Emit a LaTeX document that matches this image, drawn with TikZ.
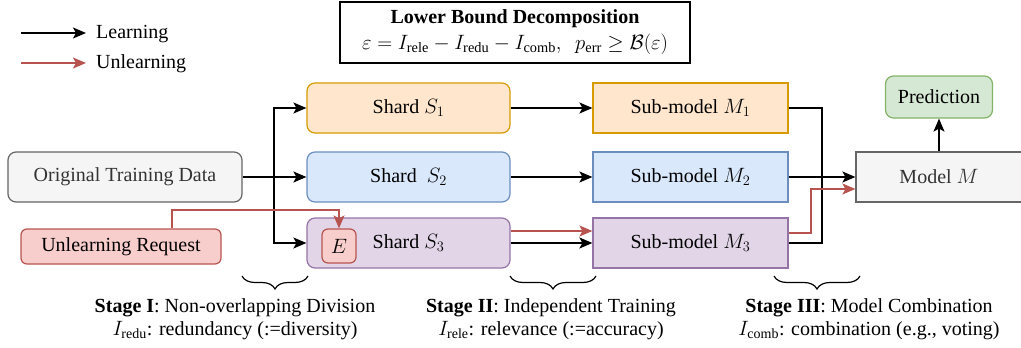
\documentclass[tikz,border=0pt]{standalone}
\usepackage{fontspec}
\setmainfont{Liberation Serif}
\usetikzlibrary{arrows.meta,decorations.pathreplacing}
\definecolor{orangeF}{HTML}{FFE6CC}\definecolor{orangeD}{HTML}{D79B00}
\definecolor{blueF}{HTML}{DAE8FC}\definecolor{blueD}{HTML}{6C8EBF}
\definecolor{purpF}{HTML}{E1D5E7}\definecolor{purpD}{HTML}{9673A6}
\definecolor{grayF}{HTML}{F5F5F5}\definecolor{grayD}{HTML}{666666}
\definecolor{redF}{HTML}{F8CECC}\definecolor{redD}{HTML}{B85450}
\definecolor{greenF}{HTML}{D5E8D4}\definecolor{greenD}{HTML}{82B366}
\definecolor{txtgray}{HTML}{333333}
\tikzset{
  box/.style={draw, line width=1.2pt, minimum height=50pt, inner sep=0pt},
  rbox/.style={box, rounded corners=8pt},
  arr/.style={line width=1.6pt, -{Stealth[length=13pt,width=11pt,inset=3pt]}},
  rarr/.style={line width=1.4pt, draw=redD, -{Stealth[length=13pt,width=11pt,inset=3pt]}},
  plain/.style={line width=1.6pt},
  bracestyle/.style={line width=1.2pt, decorate, decoration={brace, mirror, amplitude=13pt}},
}
\begin{document}
\begin{tikzpicture}[x=1pt,y=-1pt, font=\fontsize{20}{23}\selectfont]
\useasboundingbox (0,0) rectangle (1021,348);
% legend
\coordinate (l1a) at (21,33); \coordinate (l1b) at (86,33);
\coordinate (l2a) at (21,63); \coordinate (l2b) at (86,63);
\draw[arr] (l1a) -- (l1b);
\draw[rarr] (l2a) -- (l2b);
\node[anchor=west, inner sep=0pt] (lt1) at (96,34) {Learning};
\node[anchor=west, inner sep=0pt] (lt2) at (96,64) {Unlearning};
% formula box
\node[draw, line width=1.5pt, minimum width=350pt, minimum height=61pt, align=center, inner sep=2pt] (lb) at (515,32.5)
  {\textbf{Lower Bound Decomposition}\\[3pt] {\fontsize{20.5}{23}\selectfont$\varepsilon = I_{\mathrm{rele}} - I_{\mathrm{redu}} - I_{\mathrm{comb}},\ \ p_{\mathrm{err}} \geq \mathcal{B}(\varepsilon)$}};
% nodes
\node[rbox, fill=grayF, draw=grayD, text=txtgray, minimum width=234pt] (otd) at (125,177) {Original Training Data};
\node[rbox, fill=redF, draw=redD, minimum width=200pt, minimum height=35pt, rounded corners=6pt] (ur) at (121,246.5) {Unlearning Request};
\node[rbox, fill=orangeF, draw=orangeD, minimum width=203pt] (s1) at (408.5,108) {Shard $S_1$};
\node[rbox, fill=blueF, draw=blueD, minimum width=203pt] (s2) at (408.5,177) {Shard\ \ $S_2$};
\node[rbox, fill=purpF, draw=purpD, minimum width=203pt] (s3) at (408.5,243) {Shard $S_3$};
\node[rbox, fill=redF, draw=redD, minimum width=34pt, minimum height=34pt, rounded corners=6pt] (e) at (339,246) {$E$};
\node[box, fill=orangeF, draw=orangeD, minimum width=195pt] (m1) at (690.5,108) {Sub-model $M_1$};
\node[box, fill=blueF, draw=blueD, minimum width=195pt] (m2) at (690.5,177) {Sub-model $M_2$};
\node[box, fill=purpF, draw=purpD, minimum width=195pt] (m3) at (690.5,243) {Sub-model $M_3$};
\node[box, fill=grayF, draw=grayD, text=txtgray, minimum width=166pt] (mm) at (939,177) {Model $M$};
\node[rbox, fill=greenF, draw=greenD, minimum width=107pt, minimum height=42pt] (pred) at (939,97) {Prediction};
% connectors
\coordinate (j) at (274,177);
\draw[arr] (otd.east) -- (s2.west);
\draw[arr] (j) |- (s1.west);
\draw[arr] (j) |- (s3.west);
\coordinate (r2) at (172,210);
\draw[rarr] ([xshift=51pt]ur.north) -- (r2) -| (e.north);
\draw[arr] (s1.east) -- (m1.west);
\draw[arr] (s2.east) -- (m2.west);
\draw[arr] (s3.east) -- (m3.west);
\draw[rarr] ([yshift=12pt]s3.east) -- ([yshift=12pt]m3.west);
\coordinate (k) at (822,177);
\draw[plain] (m1.east) -| (k);
\draw[plain] (m3.east) -| (k);
\draw[arr] (m2.east) -- (mm.west);
\coordinate (r1) at (811,189);
\draw[rarr] ([yshift=10pt]m3.east) -| (r1) -- ([yshift=-12pt]mm.west);
\draw[arr] (mm.north) -- (pred.south);
% braces
\draw[bracestyle] (242,276) -- (308,276);
\draw[bracestyle] (510,276) -- (596,276);
\draw[bracestyle] (774,276) -- (860,276);
\node[align=center, inner sep=0pt] (st1) at (235,319) {\textbf{Stage I}: Non-overlapping Division\\ $I_{\mathrm{redu}}$: redundancy (:=diversity)};
\node[align=center, inner sep=0pt] (st2) at (551,319) {\textbf{Stage II}: Independent Training\\ $I_{\mathrm{rele}}$: relevance (:=accuracy)};
\node[align=center, inner sep=0pt] (st3) at (869,319) {\textbf{Stage III}: Model Combination\\ $I_{\mathrm{comb}}$: combination (e.g., voting)};
\end{tikzpicture}
\end{document}
